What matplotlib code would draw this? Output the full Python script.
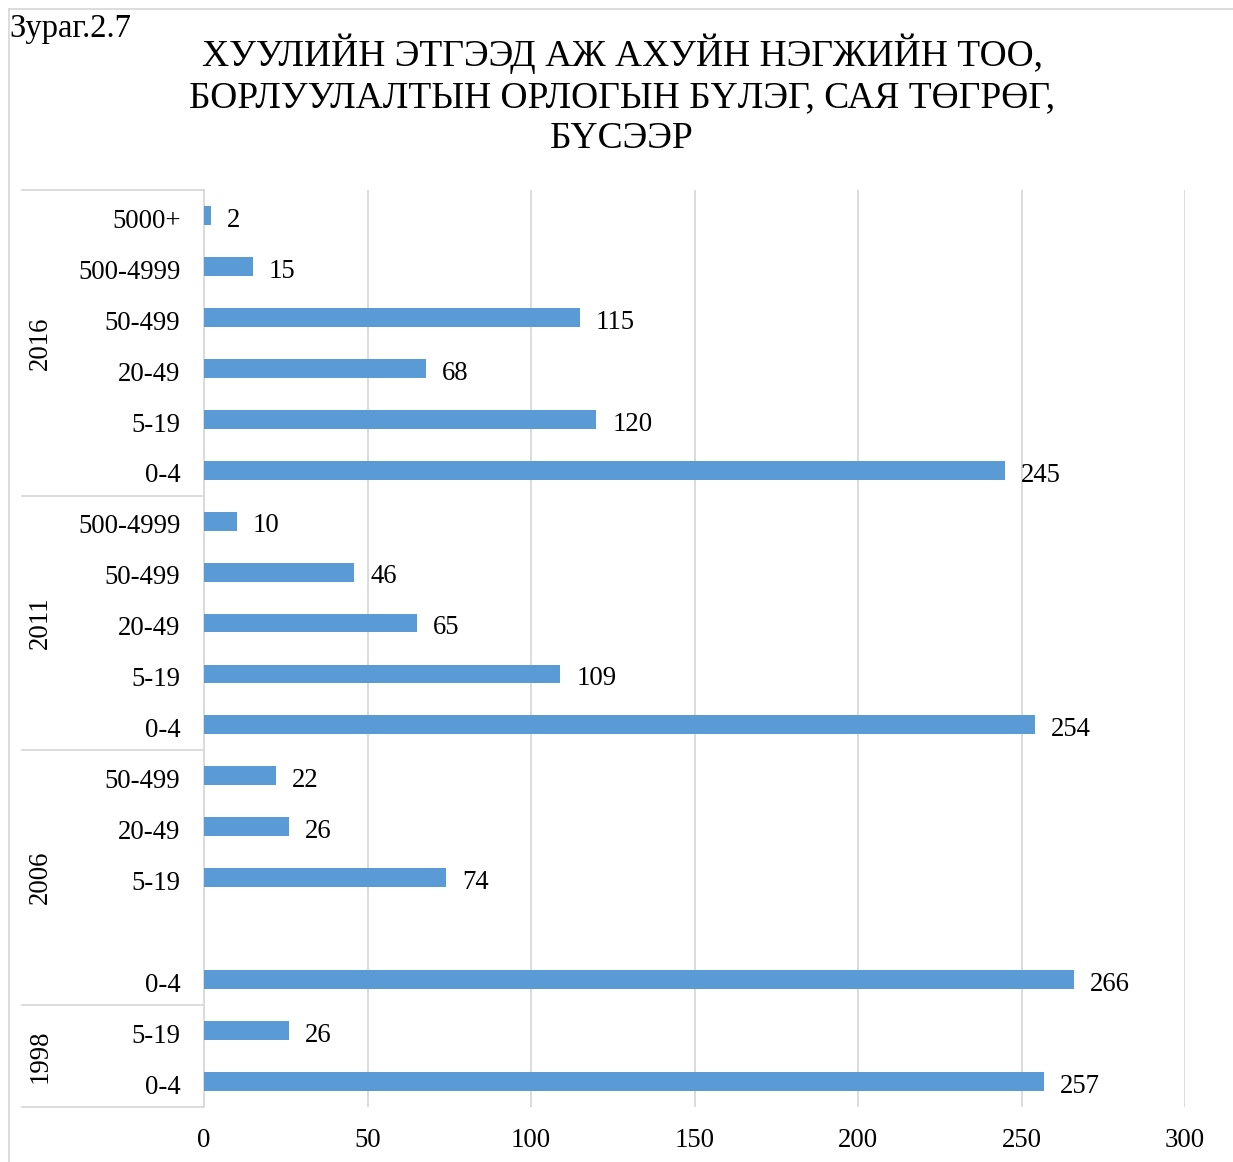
import numpy as np
import matplotlib.pyplot as plt
from matplotlib.lines import Line2D
import matplotlib.transforms as mtransforms

plt.rcParams["font.family"] = ["Liberation Serif", "DejaVu Serif"]

# data, top row first
row_years = ["2016"] * 6 + ["2011"] * 5 + ["2006"] * 5 + ["1998"] * 2
row_labels = ["5000+", "500-4999", "50-499", "20-49", "5-19", "0-4",
              "500-4999", "50-499", "20-49", "5-19", "0-4",
              "50-499", "20-49", "5-19", "", "0-4",
              "5-19", "0-4"]
row_values = [2, 15, 115, 68, 120, 245,
              10, 46, 65, 109, 254,
              22, 26, 74, np.nan, 266,
              26, 257]
years = ["2016", "2011", "2006", "1998"]
x_ticks = [0, 50, 100, 150, 200, 250, 300]

title = "ХУУЛИЙН ЭТГЭЭД АЖ АХУЙН НЭГЖИЙН ТОО,\nБОРЛУУЛАЛТЫН ОРЛОГЫН БҮЛЭГ, САЯ ТӨГРӨГ,\nБҮСЭЭР"

W, H = 1233, 1162
fig = plt.figure(figsize=(W / 100, H / 100), dpi=100)
ax = fig.add_axes([204 / W, 55 / H, 981 / W, 917 / H])

bar_color = "#5B9BD5"
grid_color = "#D9D9D9"

y = np.arange(len(row_values))
ax.barh(y, row_values, height=0.37, color=bar_color, zorder=3)
for yi, v in zip(y, row_values):
    if np.isnan(v):
        continue
    ax.annotate(f"{v:g}", (v, yi), xytext=(11.5, -3.5), textcoords="offset points",
                ha="left", va="center", fontsize=19.3)

ax.set_xlim(0, 300)
ax.set_ylim(len(row_values) - 0.5, -0.5)
ax.set_xticks(x_ticks)
ax.set_xticklabels([str(t) for t in x_ticks], fontsize=19.3)
ax.set_yticks(y)
ax.set_yticklabels(row_labels, fontsize=19.3, va="center_baseline")
ax.tick_params(axis="both", length=0)
ax.tick_params(axis="y", pad=17)
ax.tick_params(axis="x", pad=15)
ax.grid(axis="x", color=grid_color, linewidth=1.3, zorder=0)
for s in ["top", "right", "bottom"]:
    ax.spines[s].set_visible(False)
ax.spines["left"].set_color(grid_color)
ax.spines["left"].set_linewidth(1.3)

# nudge category labels down a little
shift = mtransforms.ScaledTranslation(0, -2 / 72, fig.dpi_scale_trans)
for lab in ax.get_yticklabels():
    lab.set_transform(lab.get_transform() + shift)

# group separators and year labels on the left
trans = mtransforms.blended_transform_factory(ax.transAxes, ax.transData)
x0 = (22 - 204) / 981
bounds = [-0.5]
for yr in years:
    idx = [i for i, r in enumerate(row_years) if r == yr]
    bounds.append(idx[-1] + 0.5)
    ax.text((40 - 204) / 981, (idx[0] + idx[-1]) / 2, yr, transform=trans,
            rotation=90, ha="center", va="center", fontsize=19.3)
for b in bounds:
    ax.add_line(Line2D([x0, 0], [b, b], transform=trans, color=grid_color,
                       linewidth=1.3, clip_on=False))

# outer figure border (left and top only visible)
fig.add_artist(Line2D([9 / W, 9 / W], [0, 1 - 9 / H], color=grid_color, linewidth=1.3))
fig.add_artist(Line2D([9 / W, 1], [1 - 9 / H, 1 - 9 / H], color=grid_color, linewidth=1.3))

fig.text(9 / W, 1 - 13 / H, "Зураг.2.7", ha="left", va="top", fontsize=23.5)
fig.text(622 / W, 1 - 95 / H, title, ha="center", va="center", fontsize=27,
         linespacing=1.25)

fig.savefig("out.png", dpi=100)
